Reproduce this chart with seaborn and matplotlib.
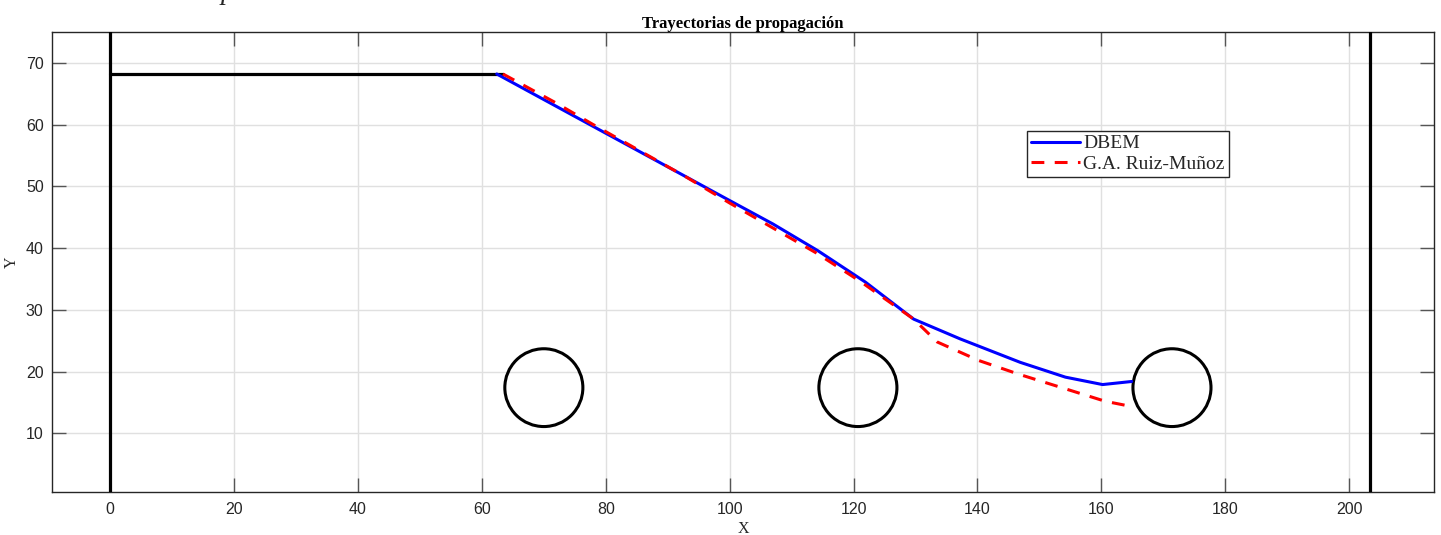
import numpy as np
import pandas as pd
import matplotlib
matplotlib.use("Agg")
import matplotlib.pyplot as plt
from matplotlib.patches import Circle
import seaborn as sns

# Crack path computed with the dual boundary element method
dbem_x = [62.4, 80.0, 93.6, 100.0, 107.0, 114.2, 121.9, 129.7, 137.2, 146.9, 154.2, 160.2, 164.9]
dbem_y = [68.2, 58.6, 51.2, 47.7, 43.9, 39.6, 34.5, 28.5, 25.3, 21.5, 19.1, 17.9, 18.4]

# Reference path (G.A. Ruiz-Muñoz)
ruiz_x = [63.4, 71.8, 77.8, 84.0, 93.0, 100.0, 114.0, 121.1, 129.7, 133.5, 140.2, 146.6, 153.6, 160.6, 164.1]
ruiz_y = [68.2, 63.6, 60.1, 56.6, 51.5, 47.3, 39.2, 34.6, 28.5, 24.8, 21.8, 19.6, 17.4, 15.2, 14.5]

# Geometry: plate edges, initial notch and holes
plate_edges_x = [0.0, 203.4]
notch_y = 68.2
notch_x = [0.0, 63.4]
hole_cx = [70.0, 120.7, 171.4]
hole_cy = [17.4, 17.4, 17.4]
hole_r = 6.3

x_ticks = [0, 20, 40, 60, 80, 100, 120, 140, 160, 180, 200]
y_ticks = [10, 20, 30, 40, 50, 60, 70]

sns.set_theme(style="whitegrid")
plt.rcParams["font.family"] = ["Liberation Sans", "DejaVu Sans"]

fig = plt.figure(figsize=(14.41, 5.35), dpi=100)
ax = fig.add_axes([52 / 1441, 1 - 492 / 535, 1382 / 1441, 460 / 535])
ax.set_facecolor("white")

dbem = pd.DataFrame({"x": dbem_x, "y": dbem_y})
ruiz = pd.DataFrame({"x": ruiz_x, "y": ruiz_y})

# plate boundaries and notch
for xe in plate_edges_x:
    ax.axvline(xe, color="black", lw=2.3, zorder=3)
ax.plot(notch_x, [notch_y, notch_y], color="black", lw=2.3, zorder=3)

sns.lineplot(data=dbem, x="x", y="y", sort=False, estimator=None, ax=ax,
             color="#0000ff", lw=2.2, label="DBEM", zorder=4)
sns.lineplot(data=ruiz, x="x", y="y", sort=False, estimator=None, ax=ax,
             color="#ff0000", lw=2.2, dashes=False, label="G.A. Ruiz-Muñoz", zorder=5)
ax.lines[-1].set_dashes([4.2, 3.4])

for cx, cy in zip(hole_cx, hole_cy):
    ax.add_patch(Circle((cx, cy), hole_r, fill=False, ec="black", lw=2.2, zorder=3))

ax.set_xlim(-9.4, 213.7)
ax.set_ylim(0.5, 75)
ax.set_xticks(x_ticks)
ax.set_yticks(y_ticks)

ax.grid(True, color="#e0e0e0", lw=1.0)
ax.tick_params(axis="both", direction="in", length=10, width=1.0, color="#555555",
               labelsize=11.5, labelcolor="#262626", top=True, right=True,
               bottom=True, left=True)
ax.tick_params(axis="x", pad=7)
ax.tick_params(axis="y", pad=6)
for s in ax.spines.values():
    s.set_color("#262626")
    s.set_linewidth(1.0)

ax.set_title("Trayectorias de propagación", family="Liberation Serif",
             fontweight="bold", fontsize=12, color="black", pad=3)
ax.set_xlabel("X", family="Liberation Serif", fontsize=11.5, color="#262626", labelpad=3)
ax.set_ylabel("Y", family="Liberation Serif", fontsize=11.5, color="#262626", labelpad=4)

leg = ax.legend(loc="upper left", bbox_to_anchor=((1027 - 52) / 1382, (492 - 131) / 460),
                prop={"family": "Liberation Serif", "size": 14}, frameon=True,
                fancybox=False, edgecolor="#262626", framealpha=1, handlelength=2.5,
                handletextpad=0.2, borderpad=0.2, labelspacing=0.15, borderaxespad=0)
leg.get_frame().set_linewidth(1.0)

# fragment of a caption line above the figure
fig.text(221 / 1441, 1 + 1 / 535, "p", family="Liberation Serif", style="italic",
         fontsize=20, va="baseline", ha="left")

fig.savefig("out.png", dpi=100, facecolor="white")
